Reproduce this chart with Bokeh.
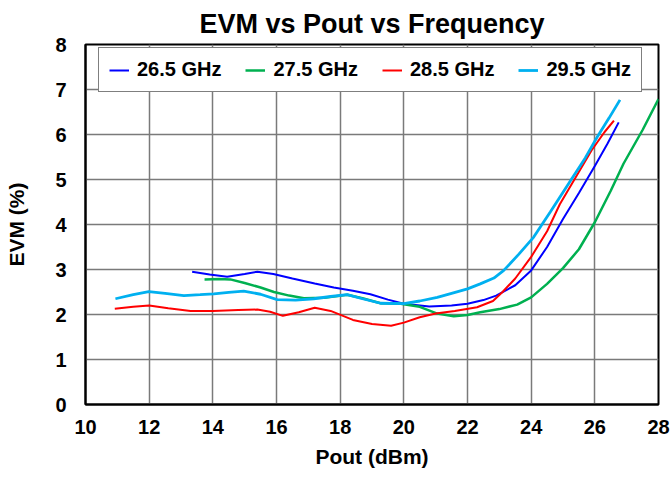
from bokeh.plotting import figure
from bokeh.models import Range1d, FixedTicker, Legend, LegendItem
from bokeh.embed import file_html
from bokeh.resources import INLINE

# ---- data ----
blue_x = [13.35, 13.9, 14.45, 15.0, 15.4, 15.9, 16.5, 17.2, 17.8, 18.4, 18.95, 19.5, 20.0,
          20.8, 21.5, 22.0, 22.5, 22.9, 23.5, 24.0, 24.5, 25.0, 25.5, 26.0, 26.4, 26.75]
blue_y = [2.95, 2.89, 2.84, 2.90, 2.95, 2.90, 2.80, 2.69, 2.60, 2.53, 2.45, 2.33, 2.24,
          2.18, 2.20, 2.24, 2.32, 2.42, 2.65, 2.98, 3.50, 4.12, 4.70, 5.30, 5.80, 6.27]

green_x = [13.74, 14.2, 14.55, 15.0, 15.5, 15.92, 16.4, 16.86, 17.5, 18.22, 18.7, 19.27, 19.9,
           20.5, 21.05, 21.57, 22.0, 22.4, 23.0, 23.56, 24.0, 24.5, 25.0, 25.5, 26.0, 26.5,
           26.9, 27.5, 28.0]
green_y = [2.78, 2.79, 2.78, 2.70, 2.60, 2.50, 2.42, 2.36, 2.37, 2.44, 2.36, 2.25, 2.24,
           2.17, 2.02, 1.96, 1.99, 2.05, 2.12, 2.22, 2.38, 2.68, 3.03, 3.45, 4.05, 4.75,
           5.35, 6.10, 6.79]

red_x = [10.92, 11.5, 12.0, 12.6, 13.3, 14.0, 14.8, 15.4, 15.8, 16.2, 16.7, 17.2, 17.7, 18.4,
         19.0, 19.6, 20.0, 20.5, 21.0, 21.6, 22.3, 22.8, 23.1, 23.5, 24.0, 24.5, 24.9, 25.4,
         25.9, 26.3, 26.6]
red_y = [2.13, 2.17, 2.20, 2.14, 2.08, 2.08, 2.10, 2.11, 2.06, 1.97, 2.05, 2.15, 2.08, 1.88,
         1.79, 1.75, 1.82, 1.94, 2.02, 2.08, 2.16, 2.30, 2.50, 2.80, 3.28, 3.85, 4.45, 5.05,
         5.65, 6.05, 6.31]

cyan_x = [10.94, 11.5, 11.99, 12.5, 13.09, 13.6, 14.03, 14.5, 14.97, 15.5, 16.02, 16.6, 17.17,
          17.7, 18.22, 18.7, 19.27, 20.0, 20.5, 21.05, 21.5, 22.0, 22.4, 22.83, 23.14, 23.6,
          24.08, 24.6, 25.24, 25.7, 26.07, 26.45, 26.79]
cyan_y = [2.35, 2.44, 2.51, 2.47, 2.42, 2.44, 2.46, 2.49, 2.52, 2.45, 2.33, 2.32, 2.35,
          2.40, 2.44, 2.35, 2.25, 2.24, 2.30, 2.38, 2.47, 2.57, 2.68, 2.81, 2.98, 3.33,
          3.72, 4.28, 4.98, 5.48, 5.94, 6.37, 6.77]

series_labels = ["26.5 GHz", "27.5 GHz", "28.5 GHz", "29.5 GHz"]
x_ticks = [10, 12, 14, 16, 18, 20, 22, 24, 26, 28]
y_ticks = [0, 1, 2, 3, 4, 5, 6, 7, 8]

FONT = "Liberation Sans"

p = figure(width=672, height=478, output_backend="svg", toolbar_location=None,
           x_range=Range1d(10, 28), y_range=Range1d(0, 8),
           min_border_left=85, min_border_right=14, min_border_top=44, min_border_bottom=74)

p.title.text = "EVM vs Pout vs Frequency"
p.title.align = "center"
p.title.text_font = FONT
p.title.text_font_size = "27px"
p.title.text_font_style = "bold"
p.title.text_color = "black"
p.title.standoff = 11

p.outline_line_color = "black"
p.outline_line_width = 2
p.background_fill_color = "white"
p.border_fill_color = "white"

for ax in (p.xaxis[0], p.yaxis[0]):
    ax.axis_line_color = "black"
    ax.axis_line_width = 2
    ax.major_tick_line_color = None
    ax.minor_tick_line_color = None
    ax.major_tick_out = 0
    ax.major_tick_in = 0
    ax.major_label_text_font = FONT
    ax.major_label_text_font_style = "bold"
    ax.major_label_text_font_size = "20px"
    ax.major_label_text_color = "black"
    ax.axis_label_text_font = FONT
    ax.axis_label_text_font_style = "bold"
    ax.axis_label_text_font_size = "21px"
    ax.axis_label_text_color = "black"

p.xaxis.ticker = FixedTicker(ticks=x_ticks)
p.yaxis.ticker = FixedTicker(ticks=y_ticks)
p.xaxis.axis_label = "Pout (dBm)"
p.yaxis.axis_label = "EVM (%)"
p.xaxis.major_label_standoff = 15
p.xaxis.axis_label_standoff = 8
p.yaxis.major_label_standoff = 19
p.yaxis.axis_label_standoff = 24

p.xgrid.grid_line_color = "#7a7a7a"
p.ygrid.grid_line_color = "#7a7a7a"
p.xgrid.grid_line_width = 1.5
p.ygrid.grid_line_width = 1.5

r_blue = p.line(blue_x, blue_y, line_color="#0000FF", line_width=2)
r_green = p.line(green_x, green_y, line_color="#00B050", line_width=2.5)
r_red = p.line(red_x, red_y, line_color="#FF0000", line_width=2)
r_cyan = p.line(cyan_x, cyan_y, line_color="#00B0F0", line_width=2.8)

legend = Legend(items=[LegendItem(label=series_labels[0], renderers=[r_blue]),
                       LegendItem(label=series_labels[1], renderers=[r_green]),
                       LegendItem(label=series_labels[2], renderers=[r_red]),
                       LegendItem(label=series_labels[3], renderers=[r_cyan])],
                orientation="horizontal", location=(13, 312))
legend.label_text_font = FONT
legend.label_text_font_style = "bold"
legend.label_text_font_size = "20px"
legend.label_text_color = "black"
legend.glyph_width = 20
legend.label_standoff = 8
legend.spacing = 24
legend.padding = 10
legend.border_line_color = "black"
legend.border_line_width = 1.5
legend.background_fill_color = "white"
legend.background_fill_alpha = 1
p.add_layout(legend, "center")

open("out.html", "w").write(file_html(p, INLINE))
